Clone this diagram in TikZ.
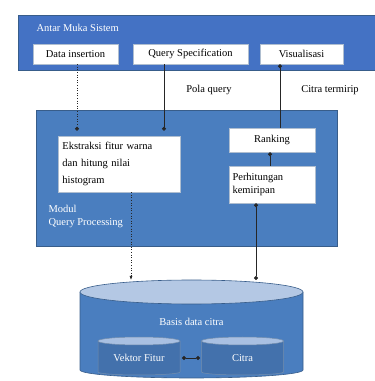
\documentclass[tikz,border=0pt]{standalone}
\usepackage{fontspec}
\setmainfont{Liberation Serif}
\usetikzlibrary{arrows.meta}

\definecolor{bandblue}{HTML}{4472C4}
\definecolor{panelblue}{HTML}{4A7EBF}
\definecolor{edgeblue}{HTML}{385D8A}
\definecolor{cyltop}{HTML}{B4C8E4}
\definecolor{smalltop}{HTML}{A9C0E2}

\tikzset{
  panel/.style={fill=#1, draw=edgeblue, line width=0.8pt},
  wbox/.style={draw=edgeblue!40, fill=white, minimum height=20pt, inner sep=2pt, font=\fontsize{10.5}{13}\selectfont},
  wtext/.style={text=white, font=\fontsize{10.5}{13}\selectfont},
  plain/.style={font=\fontsize{10.5}{13}\selectfont},
  conn/.style={line width=0.6pt, draw=black!85},
  dotend/.style={conn, -{Circle[length=4pt]}},
  dotboth/.style={conn, {Circle[length=4pt]}-{Circle[length=4pt]}}
}

\begin{document}
\begin{tikzpicture}[x=1pt,y=1pt]
\useasboundingbox (0,0) rectangle (375,381);

% antar muka
\draw[panel=bandblue] (18,311) rectangle (376,366);
\node[wtext, anchor=west] (antarmuka) at (33,353) {Antar Muka Sistem};
\node[wbox, minimum width=85pt] (datains) at (75.5,327) {Data insertion};
\node[wbox, minimum width=115pt] (qspec) at (190.5,327) {Query Specification};
\node[wbox, minimum width=83pt] (visual) at (301.5,327) {Visualisasi};

\node[plain] (polaq) at (209,291) {Pola query};
\node[plain] (citrater) at (330,291) {Citra termirip};

% modul query processing
\draw[panel=panelblue] (36,135) rectangle (337,271);
\node[wbox, minimum width=122pt, minimum height=56pt, align=left, text width=113pt,
  inner sep=4pt, font=\fontsize{10.5}{17}\selectfont] (ekstraksi) at (119,217)
  {Ekstraksi fitur warna\\dan hitung nilai\\histogram};
\node[wbox, minimum width=86pt, minimum height=24pt] (ranking) at (272,241) {Ranking};
\node[wbox, minimum width=86pt, minimum height=37pt, align=left, text width=79pt,
  inner sep=3.5pt] (hitung) at (272,196.5) {Perhitungan\\kemiripan};
\node[wtext, anchor=north west, align=left] (modul) at (45,179)
  {Modul\\Query Processing};

% basis data
\fill[panelblue] (80,89) -- (80,11) arc[start angle=180, end angle=360, x radius=111.5, y radius=8]
  -- (303,89) -- cycle;
\draw[edgeblue, line width=0.6pt] (80,89) -- (80,11) arc[start angle=180, end angle=360, x radius=111.5, y radius=8]
  -- (303,89);
\draw[fill=cyltop, draw=edgeblue, line width=0.6pt] (191.5,89) ellipse[x radius=111.5, y radius=12];
\coordinate (dbtop) at (191.5,101);
\node[wtext] (basis) at (191.5,59) {Basis data citra};

\foreach \cx/\nm/\txt in {139/vektor/Vektor Fitur, 242.5/citra/Citra} {
  \fill[panelblue!90!black] (\cx-41,40) -- (\cx-41,9) arc[start angle=180, end angle=360, x radius=41, y radius=3]
    -- (\cx+41,40) -- cycle;
  \draw[edgeblue!70!white, line width=0.5pt] (\cx-41,40) -- (\cx-41,9) arc[start angle=180, end angle=360, x radius=41, y radius=3]
    -- (\cx+41,40);
  \draw[fill=smalltop, draw=edgeblue!70!white, line width=0.5pt] (\cx,40) ellipse[x radius=41, y radius=4];
  \node[wtext] (\nm) at (\cx,23) {\txt};
}
\coordinate (vekright) at (182,23);
\coordinate (citleft) at (200,23);

% connectors
\draw[conn, dotted, -{Circle[length=4pt]}] ([xshift=1.5pt]datains.south) -- ([xshift=1.5pt,yshift=5pt]datains.south |- ekstraksi.north);
\draw[dotend] ([xshift=-26.5pt]qspec.south) -- ([xshift=-26.5pt,yshift=5pt]qspec.south |- ekstraksi.north);
\draw[dotend] ([xshift=8pt]ranking.north) -- ([xshift=8pt]ranking.north |- visual.south);
\draw[dotend] ([xshift=-2pt]hitung.north) -- ([xshift=-2pt]hitung.north |- ranking.south);
\draw[conn, dotted, -{Latex[length=4pt]}] ([xshift=12pt]ekstraksi.south) -- ([xshift=12pt]ekstraksi.south |- dbtop);
\draw[dotboth] ([xshift=-16pt]hitung.south) -- ([xshift=-16pt]hitung.south |- dbtop);
\draw[dotboth] (vekright) -- (citleft);
\end{tikzpicture}
\end{document}
